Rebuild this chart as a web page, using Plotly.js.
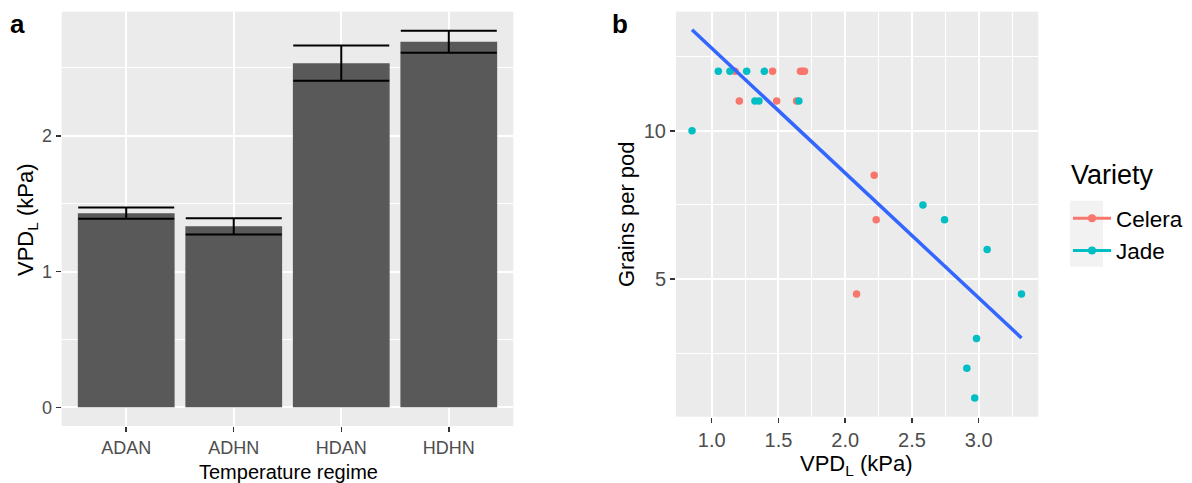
<!DOCTYPE html>
<html><head><meta charset="utf-8">
<script src="https://cdn.plot.ly/plotly-3.0.1.min.js"></script>
<style>html,body{margin:0;padding:0;background:#fff}#chart{width:1192px;height:483px}</style>
</head><body><div id="chart"></div>
<script>
// Panel a
const regimes = ['ADAN', 'ADHN', 'HDAN', 'HDHN'];
const vpdMean = [1.430, 1.333, 2.535, 2.692];
const vpdErr = [0.042, 0.060, 0.130, 0.081];

// Panel b
const celeraVpd = [1.175, 1.456, 1.665, 1.680, 1.695, 1.207, 1.487, 1.636, 2.217, 2.232, 2.085];
const celeraGrains = [12, 12, 12, 12, 12, 11, 11, 11, 8.5, 7, 4.5];
const jadeVpd = [0.853, 1.050, 1.137, 1.262, 1.394, 1.324, 1.354, 1.653, 2.582, 2.744, 3.063, 2.983, 2.911, 2.970, 3.320];
const jadeGrains = [10, 12, 12, 12, 12, 11, 11, 11, 7.5, 7, 6, 3, 2, 1, 4.5];
const fitVpd = [0.853, 3.320];
const fitGrains = [13.40, 3.02];

const varieties = ['Celera', 'Jade'];
const varietyColors = ['#F8766D', '#00BFC4'];

const FONT = 'Liberation Sans, Arial, sans-serif';
const W = 1192, H = 483;
const px = v => v / W, py = v => 1 - v / H;

const traces = [
  {
    type: 'bar', x: regimes, y: vpdMean, xaxis: 'x', yaxis: 'y', width: 0.9,
    marker: {color: '#595959', line: {width: 0}}, showlegend: false, hoverinfo: 'x+y',
    error_y: {type: 'data', array: vpdErr, visible: true, color: '#000000', thickness: 2, width: 48}
  },
  {
    type: 'scatter', mode: 'markers', x: celeraVpd, y: celeraGrains, xaxis: 'x2', yaxis: 'y2',
    marker: {color: varietyColors[0], size: 7.5}, showlegend: false
  },
  {
    type: 'scatter', mode: 'markers', x: jadeVpd, y: jadeGrains, xaxis: 'x2', yaxis: 'y2',
    marker: {color: varietyColors[1], size: 7.5}, showlegend: false
  },
  {
    type: 'scatter', mode: 'lines', x: fitVpd, y: fitGrains, xaxis: 'x2', yaxis: 'y2',
    line: {color: '#3366FF', width: 3.5}, showlegend: false
  },
  {
    type: 'scatter', mode: 'lines+markers', x: [null], y: [null], xaxis: 'x2', yaxis: 'y2',
    name: varieties[0], line: {color: varietyColors[0], width: 3}, marker: {color: varietyColors[0], size: 8}
  },
  {
    type: 'scatter', mode: 'lines+markers', x: [null], y: [null], xaxis: 'x2', yaxis: 'y2',
    name: varieties[1], line: {color: varietyColors[1], width: 3}, marker: {color: varietyColors[1], size: 8}
  }
];

const axisCommon = {
  showgrid: true, gridcolor: '#FFFFFF', gridwidth: 2, zeroline: false, showline: false,
  ticks: 'outside', ticklen: 5, tickwidth: 1.5, tickcolor: '#333333',
  fixedrange: true
};

const layout = {
  width: W, height: H,
  margin: {l: 0, r: 0, t: 0, b: 0},
  paper_bgcolor: '#FFFFFF', plot_bgcolor: '#EBEBEB',
  font: {family: FONT, color: '#000000'},
  xaxis: Object.assign({}, axisCommon, {
    domain: [px(61.7), px(513.3)], anchor: 'y', type: 'category', range: [-0.6, 3.6],
    tickfont: {size: 18, color: '#4D4D4D', family: FONT}
  }),
  yaxis: Object.assign({}, axisCommon, {
    domain: [py(426), py(11.7)], anchor: 'x', range: [-0.138, 2.914], tick0: 0, dtick: 1,
    tickfont: {size: 18, color: '#4D4D4D', family: FONT},
    minor: {tickvals: [0.5, 1.5, 2.5], showgrid: true, gridcolor: '#FFFFFF', gridwidth: 1, ticks: ''}
  }),
  xaxis2: Object.assign({}, axisCommon, {
    domain: [px(676), px(1038.3)], anchor: 'y2', range: [0.733, 3.446], tick0: 0, dtick: 0.5, tickformat: '.1f',
    tickfont: {size: 20, color: '#4D4D4D', family: FONT},
    minor: {tickvals: [1.25, 1.75, 2.25, 2.75, 3.25], showgrid: true, gridcolor: '#FFFFFF', gridwidth: 1, ticks: ''}
  }),
  yaxis2: Object.assign({}, axisCommon, {
    domain: [py(416.7), py(11.7)], anchor: 'x2', range: [0.368, 14.01], tick0: 0, dtick: 5,
    tickfont: {size: 20, color: '#4D4D4D', family: FONT},
    minor: {tickvals: [2.5, 7.5, 12.5], showgrid: true, gridcolor: '#FFFFFF', gridwidth: 1, ticks: ''}
  }),
  showlegend: true,
  legend: {
    x: px(1068), y: py(197), xanchor: 'left', yanchor: 'top',
    bgcolor: 'rgba(0,0,0,0)', borderwidth: 0,
    font: {size: 22.5, color: '#000000', family: FONT},
    itemwidth: 38, tracegroupgap: 0, traceorder: 'normal'
  },
  shapes: [
    {type: 'rect', xref: 'paper', yref: 'paper', x0: px(1070), x1: px(1103), y0: py(266.7), y1: py(200.7),
     fillcolor: '#F2F2F2', line: {width: 0}, layer: 'below'}
  ],
  annotations: [
    {text: '<b>a</b>', xref: 'paper', yref: 'paper', x: px(17), y: py(24), xanchor: 'center', yanchor: 'middle',
     showarrow: false, font: {size: 26, color: '#000000', family: FONT}},
    {text: '<b>b</b>', xref: 'paper', yref: 'paper', x: px(620), y: py(24), xanchor: 'center', yanchor: 'middle',
     showarrow: false, font: {size: 26, color: '#000000', family: FONT}},
    {text: 'Temperature regime', xref: 'paper', yref: 'paper', x: px(288), y: py(472), xanchor: 'center', yanchor: 'middle',
     showarrow: false, font: {size: 20, color: '#000000', family: FONT}},
    {text: 'VPD<sub>L</sub> (kPa)', xref: 'paper', yref: 'paper', x: px(27), y: py(220), xanchor: 'center', yanchor: 'middle',
     textangle: -90, showarrow: false, font: {size: 22, color: '#000000', family: FONT}},
    {text: 'VPD<sub>L</sub> (kPa)', xref: 'paper', yref: 'paper', x: px(856), y: py(465), xanchor: 'center', yanchor: 'middle',
     showarrow: false, font: {size: 22, color: '#000000', family: FONT}},
    {text: 'Grains per pod', xref: 'paper', yref: 'paper', x: px(626), y: py(214), xanchor: 'center', yanchor: 'middle',
     textangle: -90, showarrow: false, font: {size: 22, color: '#000000', family: FONT}},
    {text: 'Variety', xref: 'paper', yref: 'paper', x: px(1069), y: py(175), xanchor: 'left', yanchor: 'middle',
     showarrow: false, font: {size: 27, color: '#000000', family: FONT}}
  ]
};

Plotly.newPlot('chart', traces, layout, {staticPlot: true, displayModeBar: false});
</script>
</body></html>
